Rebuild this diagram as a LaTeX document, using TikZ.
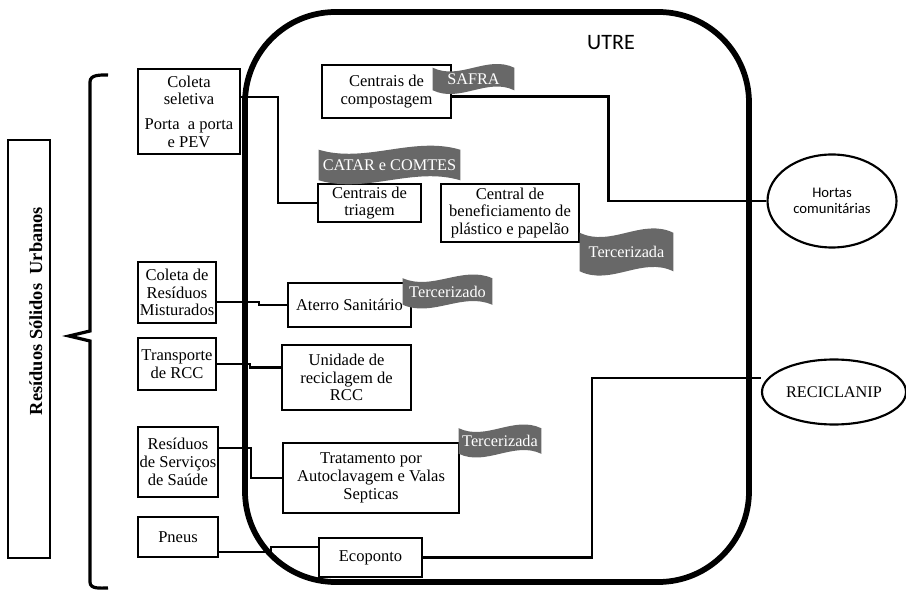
\documentclass[tikz,border=0pt]{standalone}
\usepackage{fontspec}
\setmainfont{Liberation Serif}
\newfontfamily\calib{Carlito}
\usetikzlibrary{shapes.geometric,calc}
\definecolor{bannergray}{RGB}{104,104,104}
\pgfdeclarelayer{bfill}
\pgfdeclarelayer{front}
\pgfsetlayers{main,bfill,front}
\tikzset{
  bx/.style 2 args={minimum width=#1*0.75pt, minimum height=#2*0.75pt},
  box/.style={draw, line width=1.7pt, inner sep=0pt, align=center, font=\fontsize{12.4}{13.3}\selectfont},
  oval/.style={draw, ellipse, line width=1.6pt, inner sep=0pt, align=center},
  conn/.style={line width=1.6pt},
  banner/.style={inner sep=0pt, text=white, font=\fontsize{12.2}{13}\selectfont},
}
\newcommand\wavefill[3]{%
  \fill[bannergray] (#1.north west) .. controls +(#2/3,#3) and +(-#2/3,-#3) .. (#1.north east)
    -- (#1.south east) .. controls +(-#2/3,-#3) and +(#2/3,#3) .. (#1.south west) -- cycle;}
\begin{document}
\begin{tikzpicture}[x=0.75pt,y=-0.75pt]
\useasboundingbox (0,0) rectangle (906,591);
% container
\node[draw, line width=4.3pt, rounded corners=68pt, bx={504}{570}] (utre) at (497,297) {};
\node[font=\calib\fontsize{16.5}{18}\selectfont] (utrel) at (611,43) {UTRE};
% left side
\node[box, bx={42}{418}] (rsu) at (29,349) {};
\node[rotate=90, anchor=base, font=\bfseries\fontsize{13.8}{16}\selectfont] (rsut) at (42,311) {Resíduos Sólidos\ \ Urbanos};
\draw[line width=2.4pt] (108,75) to[out=180,in=90] (90,82) -- (90,331) -- (69,336) -- (90,341) -- (90,582) to[out=-90,in=180] (108,588);
\node[box, bx={102}{85}] (cs) at (189,111.5) {Coleta\\seletiva\\[5pt]Porta\ \ a porta\\e PEV};
\node[box, bx={78}{61}] (cm) at (177,292.5) {Coleta de\\Resíduos\\Misturados};
\node[box, bx={78}{52}] (tr) at (177,364) {Transporte\\de RCC};
\node[box, bx={80}{70}] (rs) at (178,462) {Resíduos\\de Serviços\\de Saúde};
\node[box, bx={80}{40}] (pn) at (178,537) {Pneus};
% inner boxes
\node[box, bx={129}{53}] (comp) at (386.5,91.5) {Centrais de\\compostagem};
\node[box, bx={103}{38}] (tri) at (369.5,203) {Centrais de\\triagem};
\node[box, bx={138}{58}] (ben) at (510,213) {Central de\\beneficiamento de\\plástico e papelão};
\node[box, bx={123}{44}] (ate) at (349.5,305) {Aterro Sanitário};
\node[box, bx={129}{65}] (urc) at (346.5,377.5) {Unidade de\\reciclagem de\\RCC};
\node[box, bx={176}{70}] (tra) at (371,478) {Tratamento por\\Autoclavagem e Valas\\Septicas};
\node[box, bx={103}{39}] (eco) at (370.5,557.5) {Ecoponto};
% ellipses
\node[oval, bx={129}{93}, font=\calib\fontsize{11}{12.5}\selectfont] (hor) at (832,201) {Hortas\\comunitárias};
\node[oval, bx={144}{65}, font=\fontsize{12.2}{13}\selectfont] (rec) at (834,392) {RECICLANIP};
% connectors
\draw[conn] ($(cs.east)+(0,-14.5)$) -| ($(tri.west)+(-39,0)$) -- (tri.west);
\draw[conn] ($(comp.east)+(0,5)$) -| ($(hor.west)+(-158,0)$) -- (hor.west);
\draw[conn] ($(cm.east)+(0,9.5)$) -- ++(42,0) |- (ate.west);
\draw[conn] (tr.east) -- ++(33,0) |- ($(urc.west)+(0,-10)$);
\draw[conn] ($(rs.east)+(0,-14)$) -- ++(32,0) |- (tra.west);
\draw[conn] ($(pn.east)+(0,15)$) -- ++(52,0) |- ($(eco.west)+(0,-10.5)$);
\draw[conn] (eco.east) -| ($(rec.west)+(-169,-14)$) -- ($(rec.west)+(0,-14)$);
% banners
\begin{pgfonlayer}{front}
\node[banner, bx={81}{22}] (safra) at (473.5,79) {SAFRA};
\node[banner, bx={141}{30}] (catar) at (389.5,165) {CATAR e COMTES};
\node[banner, bx={93}{38}] (terc1) at (626.5,252) {Tercerizada};
\node[banner, bx={89}{26}] (terc2) at (447.5,291.5) {Tercerizado};
\node[banner, bx={82}{25}] (terc3) at (500,441) {Tercerizada};
\end{pgfonlayer}
\begin{pgfonlayer}{bfill}
\wavefill{safra}{81}{13}
\wavefill{catar}{141}{14}
\wavefill{terc1}{93}{15}
\wavefill{terc2}{89}{13}
\wavefill{terc3}{82}{13}
\end{pgfonlayer}
\end{tikzpicture}
\end{document}
